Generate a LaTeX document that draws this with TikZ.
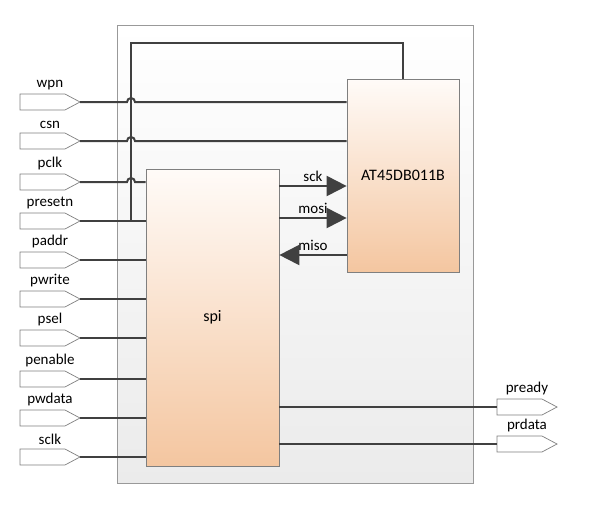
\documentclass[tikz,border=0pt]{standalone}
\usepackage{fontspec}
\setmainfont{Carlito}
\usetikzlibrary{arrows.meta,shapes.symbols,calc}
\definecolor{wirec}{HTML}{404040}
\definecolor{edgec}{HTML}{7F7F7F}
\definecolor{framebot}{HTML}{EBEBEB}
\definecolor{blocktop}{HTML}{FFFBF8}
\definecolor{blockbot}{HTML}{F4C6A0}
\tikzset{
  port/.style={shape=signal,signal to=east,signal pointer angle=56,draw=edgec,fill=white,
    line width=0.7pt,minimum width=60pt,minimum height=16pt,inner sep=0pt,outer sep=0pt,anchor=west},
  portlbl/.style={label distance=1pt,xshift=7.5pt},
  wire/.style={draw=wirec,line width=2pt},
  bus/.style={wire,-{Triangle[length=20pt,width=20pt]}},
  block/.style={draw=edgec,line width=0.7pt,top color=blocktop,bottom color=blockbot,inner sep=0pt,
    font=\fontsize{16}{19}\selectfont},
  frame/.style={draw=edgec!80,line width=0.7pt,top color=white,bottom color=framebot,inner sep=0pt},
}
\begin{document}
\begin{tikzpicture}[x=1pt,y=-1pt,font=\fontsize{15}{18}\selectfont]
\useasboundingbox (0,0) rectangle (597,507);
\node[frame,minimum width=356pt,minimum height=458pt] (sys) at (295,254) {};
\node[block,minimum width=133pt,minimum height=297pt] (spi) at (212.5,317.5) {spi};
\node[block,minimum width=112pt,minimum height=193pt] (at45) at (403,175.5) {AT45DB011B};
% ports
\foreach \y/\n in {102/wpn,141/csn,182/pclk,221/presetn,260/paddr,299/pwrite,338/psel,379/penable,418/pwdata,457/sclk}
  \node[port,label={[portlbl]above:\n}] (\n) at (20,\y) {};
\foreach \y/\n in {407/pready,444/prdata}
  \node[port,label={[portlbl]above:\n}] (\n) at (497,\y) {};
% reset loop
\coordinate (rtop) at (131,43);
\draw[wire] (presetn.east) -- (spi.west |- presetn.east);
\draw[wire] (rtop |- presetn.east) -- (rtop) -| (at45.north);
\foreach \n/\t in {wpn/at45,csn/at45,pclk/spi}
  \draw[wire] (\n.east) -- ($(rtop |- \n.east)+(-4pt,0)$) arc[start angle=180,end angle=0,radius=4pt] -- (\t.west |- \n.east);
\foreach \n in {paddr,pwrite,psel,penable,pwdata,sclk}
  \draw[wire] (\n.east) -- (spi.west |- \n.east);
\foreach \n in {pready,prdata}
  \draw[wire] (spi.east |- \n.west) -- (\n.west);
% flash bus
\coordinate (sck) at (313,186);
\coordinate (mosi) at (313,218);
\coordinate (miso) at (313,255);
\draw[bus] (spi.east |- sck) -- (at45.west |- sck) node[midway,above] (lsck) {sck};
\draw[bus] (spi.east |- mosi) -- (at45.west |- mosi) node[midway,above] (lmosi) {mosi};
\draw[bus] (at45.west |- miso) -- (spi.east |- miso) node[midway,above] (lmiso) {miso};
\end{tikzpicture}
\end{document}
